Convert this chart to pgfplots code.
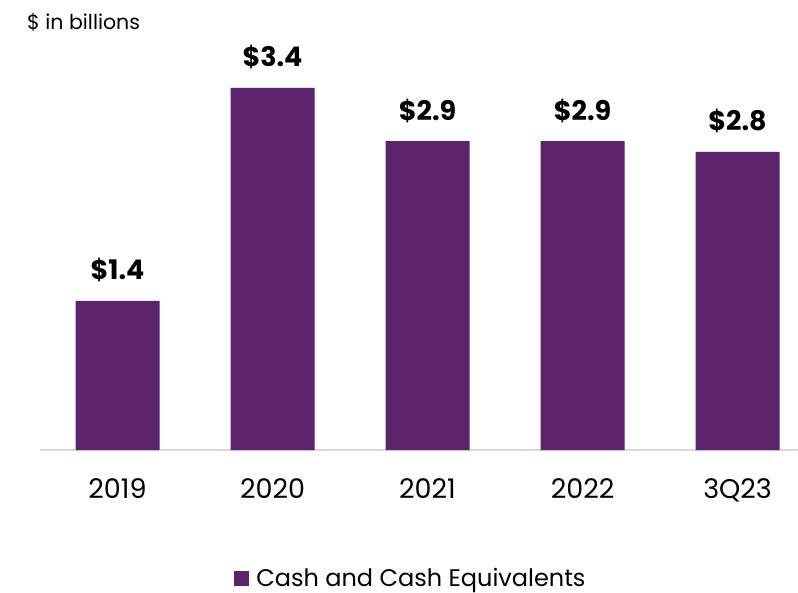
\documentclass[border=0pt]{standalone}
\usepackage{fontspec}
\setmainfont{Poppins}
\usepackage{pgfplots}
\pgfplotsset{compat=1.18}
\definecolor{barpurple}{HTML}{5A236B}
\definecolor{axisgray}{HTML}{D9D9D9}
\begin{document}
\begin{tikzpicture}[x=1pt,y=1pt]
\path[use as bounding box, fill=white] (0,0) rectangle (798,592);
\node[anchor=base west, inner sep=0, font=\fontsize{20.5}{20.5}\selectfont] at (27,562) {\$ in billions};
\begin{axis}[
  at={(40pt,142pt)}, anchor=south west,
  scale only axis, width=758pt, height=404.7pt,
  xmin=-0.5, xmax=4.39, ymin=0, ymax=3.8,
  axis y line=none, axis x line*=bottom,
  x axis line style={axisgray, line width=1.5pt},
  xtick={0,1,2,3,4}, xticklabels={2019,2020,2021,2022,3Q23},
  major tick length=0pt,
  xticklabel style={anchor=base, yshift=-48pt, inner sep=0pt, font=\fontsize{27}{27}\selectfont},
  ybar, bar width=84pt,
  nodes near coords, point meta=explicit symbolic,
  nodes near coords style={anchor=base, yshift=21pt, inner sep=0pt, font=\bfseries\fontsize{27}{27}\selectfont},
  legend style={at={(0.488,-0.316)}, anchor=center, draw=none, fill=none, inner sep=0pt,
    nodes={inner sep=0pt}, font=\fontsize{24}{24}\selectfont},
  legend image code/.code={\fill[barpurple] (0pt,-8pt) rectangle (15pt,7pt); \path (22pt,0pt);},
  clip=false,
]
\addplot[fill=barpurple, draw=none] coordinates {
  (0,1.4) [\$1.4]
  (1,3.4) [\$3.4]
  (2,2.9) [\$2.9]
  (3,2.9) [\$2.9]
  (4,2.8) [\$2.8]
};
\addlegendentry{Cash and Cash Equivalents}
\end{axis}
\end{tikzpicture}
\end{document}
